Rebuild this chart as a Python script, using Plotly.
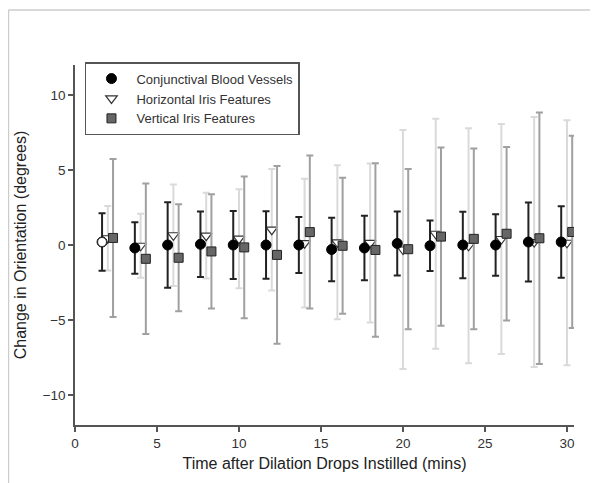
import plotly.graph_objects as go

times = [2, 4, 6, 8, 10, 12, 14, 16, 18, 20, 22, 24, 26, 28, 30]

conj_mean = [0.2, -0.2, 0.0, 0.05, 0.0, 0.0, 0.0, -0.3, -0.2, 0.1, -0.05, 0.0, 0.0, 0.2, 0.2]
conj_sd = [1.92, 1.72, 2.85, 2.18, 2.27, 2.25, 1.87, 2.11, 2.15, 2.14, 1.68, 2.22, 2.05, 2.64, 2.38]

horiz_mean = [0.45, -0.05, 0.65, 0.62, 0.42, 1.02, 0.12, 0.18, 0.14, -0.3, 0.75, -0.05, 0.4, 0.2, 0.15]
horiz_sd = [2.15, 2.13, 3.39, 2.86, 3.3, 4.05, 4.29, 5.13, 5.3, 7.96, 7.67, 7.83, 7.67, 8.33, 8.17]

vert_mean = [0.47, -0.92, -0.85, -0.43, -0.16, -0.66, 0.86, -0.05, -0.33, -0.28, 0.56, 0.41, 0.75, 0.45, 0.87]
vert_sd = [5.27, 5.02, 3.56, 3.81, 4.73, 5.92, 5.1, 4.53, 5.78, 5.34, 5.94, 6.03, 5.78, 8.39, 6.41]

x_ticks = [0, 5, 10, 15, 20, 25, 30]
y_ticks = [-10, -5, 0, 5, 10]

FONT = "Arial, Liberation Sans, sans-serif"

fig = go.Figure()

# Horizontal iris features (light bars)
fig.add_trace(go.Scatter(
    x=[t + 0.0 for t in times], y=horiz_mean, mode="markers",
    name="Horizontal Iris Features", legendrank=2,
    marker=dict(symbol="triangle-down", size=10, color="white",
                line=dict(color="#333333", width=1.2)),
    error_y=dict(type="data", array=horiz_sd, color="#dadada", thickness=2, width=3.5),
))

# Conjunctival blood vessels
fig.add_trace(go.Scatter(
    x=[t - 0.35 for t in times], y=conj_mean, mode="markers",
    name="Conjunctival Blood Vessels", legendrank=1,
    marker=dict(symbol="circle", size=10, color="black",
                line=dict(color="black", width=1)),
    error_y=dict(type="data", array=conj_sd, color="#222222", thickness=2, width=3.5),
))
fig.add_trace(go.Scatter(
    x=[times[0] - 0.35], y=[conj_mean[0]], mode="markers", showlegend=False,
    marker=dict(symbol="circle", size=9, color="white",
                line=dict(color="#333333", width=1.2)),
))

# Vertical iris features
fig.add_trace(go.Scatter(
    x=[t + 0.32 for t in times], y=vert_mean, mode="markers",
    name="Vertical Iris Features", legendrank=3,
    marker=dict(symbol="square", size=9, color="#666666",
                line=dict(color="#222222", width=1)),
    error_y=dict(type="data", array=vert_sd, color="#a0a0a0", thickness=2, width=3.5),
))

# outer light frame (left and top edges)
fig.add_shape(type="line", xref="paper", yref="paper",
              x0=-0.1333, x1=-0.1333, y0=1.1528, y1=-0.2,
              line=dict(color="#cccccc", width=1.5))
fig.add_shape(type="line", xref="paper", yref="paper",
              x0=-0.1333, x1=1.1, y0=1.1528, y1=1.1528,
              line=dict(color="#cccccc", width=1.5))

fig.update_layout(
    width=590, height=475,
    margin=dict(l=67, r=24, t=57, b=58),
    paper_bgcolor="white", plot_bgcolor="white",
    font=dict(family=FONT, size=13.5, color="#333333"),
    showlegend=True,
    legend=dict(
        x=0.02, y=1.008, xanchor="left", yanchor="top",
        bordercolor="#555555", borderwidth=1.5, bgcolor="white",
        font=dict(family=FONT, size=13, color="#333333"),
        itemwidth=40, tracegroupgap=0, entrywidth=205, entrywidthmode="pixels",
    ),
    xaxis=dict(
        range=[0, 30.43], tickvals=x_ticks, ticks="outside", ticklen=5,
        tickwidth=1.5, tickcolor="#555555", showline=True, linecolor="#555555",
        linewidth=1.5, showgrid=False, zeroline=False, mirror=False,
        tickfont=dict(family=FONT, size=13.5, color="#333333"),
        title=dict(text="Time after Dilation Drops Instilled (mins)",
                   font=dict(family=FONT, size=16, color="#222222"), standoff=8),
    ),
    yaxis=dict(
        range=[-12, 12], tickvals=y_ticks, ticks="outside", ticklen=5,
        tickwidth=1.5, tickcolor="#555555", showline=True, linecolor="#555555",
        linewidth=1.5, showgrid=False, zeroline=False, mirror=False,
        tickfont=dict(family=FONT, size=13.5, color="#333333"),
        title=dict(text="Change in Orientation (degrees)",
                   font=dict(family=FONT, size=16, color="#222222"), standoff=12),
    ),
)

fig.write_html("out.html")
